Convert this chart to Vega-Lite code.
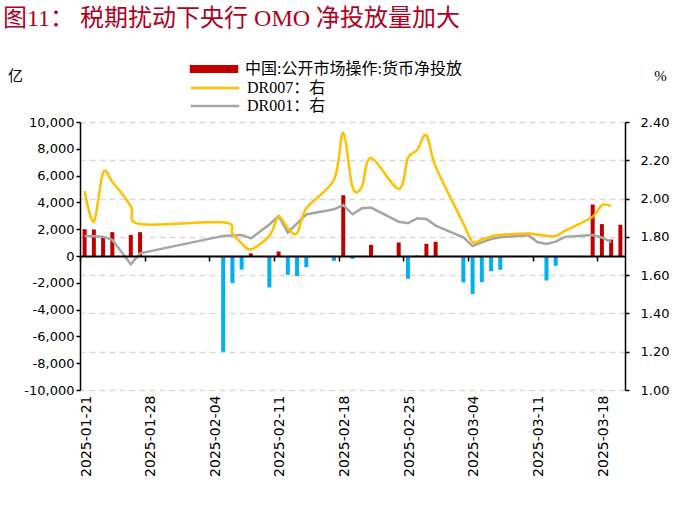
{
  "$schema": "https://vega.github.io/schema/vega-lite/v6.json",
  "width": 545,
  "height": 268,
  "autosize": {"type": "none"},
  "padding": {"left": 80, "top": 122, "right": 63, "bottom": 120},
  "background": "white",
  "config": {
    "view": {"stroke": null},
    "locale": {"number": {"decimal": ".", "thousands": ",", "grouping": [3], "currency": ["", ""], "minus": "-"}},
    "axis": {"labelFont": "DejaVu Sans", "labelFontSize": 13, "labelColor": "#000000", "titleFont": "Liberation Serif, Noto Sans CJK SC", "titleFontSize": 15, "titleFontWeight": "normal", "titleColor": "#000000"},
    "legend": {"labelFont": "Liberation Serif, Noto Sans CJK SC", "labelFontSize": 16, "labelColor": "#000000", "labelLimit": 400}
  },
  "title": {
    "text": "图11： 税期扰动下央行 OMO 净投放量加大",
    "anchor": "start",
    "frame": "group",
    "font": "Liberation Serif, Noto Sans CJK SC",
    "fontSize": 24,
    "fontWeight": "normal",
    "color": "#B0001E",
    "dx": -77,
    "dy": -25
  },
  "data": {"values": [
    {"d": "2025-01-21", "omo": 2000, "DR007": 2.040, "DR001": 1.805},
    {"d": "2025-01-22", "omo": 1980, "DR007": 1.880, "DR001": 1.803},
    {"d": "2025-01-23", "omo": 1400, "DR007": 2.135, "DR001": 1.800},
    {"d": "2025-01-24", "omo": 1780, "DR007": 2.088, "DR001": 1.784},
    {"d": "2025-01-26", "omo": 1580, "DR007": 1.961, "DR001": 1.657},
    {"d": "2025-01-27", "omo": 1780, "DR007": 1.867, "DR001": 1.714},
    {"d": "2025-02-05", "omo": -7150, "DR007": 1.876, "DR001": 1.805},
    {"d": "2025-02-06", "omo": -2030, "DR007": 1.819, "DR001": 1.807},
    {"d": "2025-02-07", "omo": -1020, "DR007": 1.766, "DR001": 1.810},
    {"d": "2025-02-08", "omo": 190, "DR007": 1.735, "DR001": 1.792},
    {"d": "2025-02-10", "omo": -2350, "DR007": 1.805, "DR001": 1.865},
    {"d": "2025-02-11", "omo": 340, "DR007": 1.905, "DR001": 1.909},
    {"d": "2025-02-12", "omo": -1400, "DR007": 1.845, "DR001": 1.822},
    {"d": "2025-02-13", "omo": -1500, "DR007": 1.819, "DR001": 1.870},
    {"d": "2025-02-14", "omo": -830, "DR007": 1.949, "DR001": 1.917},
    {"d": "2025-02-17", "omo": -360, "DR007": 2.100, "DR001": 1.944},
    {"d": "2025-02-18", "omo": 4540, "DR007": 2.344, "DR001": 1.966},
    {"d": "2025-02-19", "omo": -210, "DR007": 2.060, "DR001": 1.918},
    {"d": "2025-02-20", "omo": 0, "DR007": 2.060, "DR001": 1.949},
    {"d": "2025-02-21", "omo": 830, "DR007": 2.212, "DR001": 1.953},
    {"d": "2025-02-24", "omo": 1010, "DR007": 2.051, "DR001": 1.879},
    {"d": "2025-02-25", "omo": -1700, "DR007": 2.212, "DR001": 1.871},
    {"d": "2025-02-26", "omo": 30, "DR007": 2.254, "DR001": 1.897},
    {"d": "2025-02-27", "omo": 910, "DR007": 2.332, "DR001": 1.893},
    {"d": "2025-02-28", "omo": 1060, "DR007": 2.167, "DR001": 1.859},
    {"d": "2025-03-03", "omo": -1980, "DR007": 1.870, "DR001": 1.797},
    {"d": "2025-03-04", "omo": -2850, "DR007": 1.773, "DR001": 1.752},
    {"d": "2025-03-05", "omo": -1950, "DR007": 1.786, "DR001": 1.771},
    {"d": "2025-03-06", "omo": -1130, "DR007": 1.802, "DR001": 1.789},
    {"d": "2025-03-07", "omo": -1030, "DR007": 1.810, "DR001": 1.798},
    {"d": "2025-03-10", "omo": 0, "DR007": 1.817, "DR001": 1.809},
    {"d": "2025-03-11", "omo": 0, "DR007": 1.812, "DR001": 1.773},
    {"d": "2025-03-12", "omo": -1830, "DR007": 1.806, "DR001": 1.763},
    {"d": "2025-03-13", "omo": -730, "DR007": 1.805, "DR001": 1.775},
    {"d": "2025-03-14", "omo": 0, "DR007": 1.831, "DR001": 1.800},
    {"d": "2025-03-17", "omo": 3840, "DR007": 1.905, "DR001": 1.810},
    {"d": "2025-03-18", "omo": 2380, "DR007": 1.966, "DR001": 1.797},
    {"d": "2025-03-19", "omo": 1230, "DR007": 1.961, "DR001": 1.772},
    {"d": "2025-03-20", "omo": 2330, "DR007": null, "DR001": null}
  ]},
  "layer": [
    {
      "mark": {"type": "bar", "width": 4},
      "encoding": {
        "x": {
          "field": "d", "type": "temporal", "timeUnit": "utcyearmonthdate", "bandPosition": 0.5,
          "scale": {"domain": [{"year": 2025, "month": 1, "date": 21, "utc": true}, {"year": 2025, "month": 3, "date": 21, "utc": true}], "nice": false, "padding": 0},
          "axis": {
            "orient": "bottom",
            "values": [
              {"year": 2025, "month": 1, "date": 21, "utc": true},
              {"year": 2025, "month": 1, "date": 28, "utc": true},
              {"year": 2025, "month": 2, "date": 4, "utc": true},
              {"year": 2025, "month": 2, "date": 11, "utc": true},
              {"year": 2025, "month": 2, "date": 18, "utc": true},
              {"year": 2025, "month": 2, "date": 25, "utc": true},
              {"year": 2025, "month": 3, "date": 4, "utc": true},
              {"year": 2025, "month": 3, "date": 11, "utc": true},
              {"year": 2025, "month": 3, "date": 18, "utc": true}
            ],
            "labelExpr": "utcFormat(datum.value, '%Y-%m-%d')",
            "labelAngle": 270, "labelAlign": "right", "labelBaseline": "middle",
            "labelFontSize": 14,
            "labelPadding": 5, "labelOffset": 6,
            "domain": false, "ticks": false, "grid": false, "title": null
          }
        },
        "y": {
          "field": "omo", "type": "quantitative",
          "scale": {"domain": [-10000, 10000], "nice": false},
          "axis": {
            "orient": "left",
            "values": [-10000, -8000, -6000, -4000, -2000, 0, 2000, 4000, 6000, 8000, 10000],
            "format": ",d",
            "domain": true, "domainColor": "#000000", "domainWidth": 1.5,
            "ticks": true, "tickColor": "#000000", "tickWidth": 1.5, "tickSize": 4,
            "grid": false, "labelPadding": 2,
            "title": "亿", "titleAngle": 0, "titleX": -65, "titleY": -47, "titleAlign": "center", "titleBaseline": "middle"
          }
        },
        "fill": {
          "condition": {"test": "datum.omo < 0", "value": "#00B0F0"},
          "datum": "中国:公开市场操作:货币净投放",
          "scale": {"range": ["#C00000"]},
          "legend": {
            "orient": "none", "legendX": 125, "legendY": -62, "title": null,
            "symbolType": "M-2.8,-0.46H2.8V0.46H-2.8Z", "symbolSize": 300, "symbolStrokeWidth": 0,
            "labelOffset": 22
          }
        }
      }
    },
    {
      "mark": {"type": "line", "strokeWidth": 2.5},
      "encoding": {
        "x": {
          "field": "d", "type": "temporal", "timeUnit": "utcyearmonthdate", "bandPosition": 0.5,
          "axis": {
            "orient": "bottom", "offset": -134, "zindex": 1,
            "values": [
              {"year": 2025, "month": 1, "date": 21, "utc": true},
              {"year": 2025, "month": 1, "date": 28, "utc": true},
              {"year": 2025, "month": 2, "date": 4, "utc": true},
              {"year": 2025, "month": 2, "date": 11, "utc": true},
              {"year": 2025, "month": 2, "date": 18, "utc": true},
              {"year": 2025, "month": 2, "date": 25, "utc": true},
              {"year": 2025, "month": 3, "date": 4, "utc": true},
              {"year": 2025, "month": 3, "date": 11, "utc": true},
              {"year": 2025, "month": 3, "date": 18, "utc": true}
            ],
            "labels": false, "domain": true, "domainColor": "#000000", "domainWidth": 2,
            "ticks": true, "tickColor": "#000000", "tickWidth": 1.5, "tickSize": 5,
            "grid": false, "title": null
          }
        },
        "y": {
          "field": "DR001", "type": "quantitative",
          "scale": {"domain": [1, 2.4], "nice": false, "zero": false},
          "axis": {
            "orient": "right",
            "values": [1, 1.2, 1.4, 1.6, 1.8, 2, 2.2, 2.4],
            "labelExpr": "format(datum.value, '.2f')",
            "labelOverlap": false,
            "domain": true, "domainColor": "#000000", "domainWidth": 1.5,
            "ticks": true, "tickColor": "#000000", "tickWidth": 1.5, "tickSize": 4,
            "grid": true, "gridColor": "#D9D9D9", "gridDash": [6, 4], "gridWidth": 1.5,
            "labelPadding": 11,
            "title": "%", "titleAngle": 0, "titleX": 35, "titleY": -47, "titleAlign": "center", "titleBaseline": "middle"
          }
        },
        "stroke": {
          "datum": "DR001",
          "scale": {"domain": ["DR007", "DR001"], "range": ["#FFC000", "#A5A5A5"]},
          "legend": {
            "orient": "none", "legendX": 125, "legendY": -44, "title": null,
            "symbolType": "M-2.8,0H2.8", "symbolSize": 300, "symbolStrokeWidth": 2.5,
            "labelOffset": 22, "rowPadding": 0,
            "labelExpr": "datum.label + '：右'"
          }
        }
      }
    },
    {
      "mark": {"type": "line", "strokeWidth": 2.5, "interpolate": "cardinal"},
      "encoding": {
        "x": {"field": "d", "type": "temporal", "timeUnit": "utcyearmonthdate", "bandPosition": 0.5, "axis": null},
        "y": {"field": "DR007", "type": "quantitative", "scale": {"domain": [1, 2.4], "nice": false, "zero": false}, "axis": null},
        "stroke": {"datum": "DR007"}
      }
    }
  ],
  "resolve": {"scale": {"y": "independent"}, "axis": {"x": "independent"}}
}
